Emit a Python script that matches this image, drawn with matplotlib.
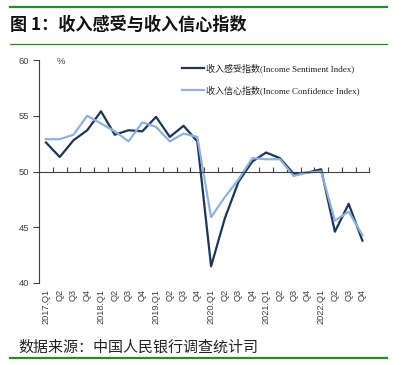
import matplotlib
matplotlib.use("Agg")
import matplotlib.pyplot as plt
from matplotlib.lines import Line2D

plt.rcParams['font.family'] = ['Liberation Sans', 'Noto Sans CJK SC', 'DejaVu Sans']

title = "图 1：收入感受与收入信心指数"
source = "数据来源：中国人民银行调查统计司"
ylabel_unit = "%"

quarters = ["2017.Q1", "Q2", "Q3", "Q4",
            "2018.Q1", "Q2", "Q3", "Q4",
            "2019.Q1", "Q2", "Q3", "Q4",
            "2020.Q1", "Q2", "Q3", "Q4",
            "2021.Q1", "Q2", "Q3", "Q4",
            "2022.Q1", "Q2", "Q3", "Q4"]

series_names = ["收入感受指数(Income Sentiment Index)",
                "收入信心指数(Income Confidence Index)"]

sentiment = [52.6, 51.3, 52.8, 53.7, 55.4, 53.3, 53.7, 53.6,
             54.9, 53.1, 54.1, 52.7, 41.5, 45.8, 49.1, 50.9,
             51.7, 51.2, 49.8, 49.9, 50.2, 44.6, 47.1, 43.8]
confidence = [52.9, 52.9, 53.3, 55.0, 54.3, 53.6, 52.7, 54.4,
              54.0, 52.7, 53.4, 53.1, 45.9, 47.7, 49.3, 51.2,
              51.1, 51.1, 49.6, 49.9, 50.0, 45.6, 46.4, 44.3]

yticks = [40, 45, 50, 55, 60]

dark = "#1d3557"
light = "#8fb1dc"
green = "#2a8a2a"
gray = "#404040"

W, H = 409, 365
fig = plt.figure(figsize=(W / 100, H / 100), dpi=100)

def fx(px):
    return px / W

def fy(py):
    return 1 - py / H

# title & decorative lines
fig.add_artist(Line2D([fx(10), fx(387)], [fy(7), fy(7)], color=green, lw=1.6))
fig.add_artist(Line2D([fx(10), fx(387)], [fy(44), fy(44)], color=green, lw=0.9))
fig.add_artist(Line2D([fx(10), fx(387)], [fy(358), fy(358)], color=green, lw=1.6))
fig.text(fx(10), fy(25), title, fontsize=12.3, fontweight='bold',
         family=['Noto Sans CJK SC'], va='center', ha='left', color='#111111')
fig.text(fx(18), fy(348), source, fontsize=10.8,
         family=['Noto Sans CJK SC'], va='center', ha='left', color='#222222')

ax = fig.add_axes([fx(39.1), fy(283), fx(369.3) - fx(39.1), fy(60) - fy(283)])

x = list(range(len(quarters)))
ax.plot(x, sentiment, color=dark, lw=1.6, label=series_names[0])
ax.plot(x, confidence, color=light, lw=1.6, label=series_names[1])

ax.set_xlim(-0.5, len(quarters) - 0.5)
ax.set_ylim(40, 60)

for s in ['top', 'right']:
    ax.spines[s].set_visible(False)
ax.spines['left'].set_color(gray)
ax.spines['left'].set_linewidth(0.8)
ax.spines['bottom'].set_position(('data', 50))
ax.spines['bottom'].set_color(gray)
ax.spines['bottom'].set_linewidth(0.8)

ax.set_yticks(yticks)
ax.set_yticklabels([str(v) for v in yticks])
ax.tick_params(axis='y', direction='out', length=4, width=0.8, color=gray,
               labelsize=6.8, labelcolor=gray, pad=3)

# boundary ticks on the 50 line
ax.set_xticks([i + 0.5 for i in x])
ax.set_xticklabels([])
ax.tick_params(axis='x', direction='in', length=3.5, width=0.8, color=gray)

# category labels at the bottom
sec = ax.secondary_xaxis('bottom')
sec.set_xticks(x)
sec.set_xticklabels(quarters, rotation=90, fontsize=6.6, color=gray)
sec.tick_params(length=0, pad=4)
sec.spines['bottom'].set_visible(False)

ax.text(0.8, 59.9, ylabel_unit, fontsize=6.8, color=gray, ha='left', va='center')

leg = ax.legend(loc='upper left', bbox_to_anchor=(fx(182), fy(63.5)),
                bbox_transform=fig.transFigure, frameon=False,
                borderpad=0, borderaxespad=0, handlelength=2.4,
                handletextpad=0.3, labelspacing=1.35,
                prop={'family': ['Liberation Serif', 'Noto Sans CJK SC'], 'size': 6.5})
for t in leg.get_texts():
    t.set_color('#222222')

fig.savefig("out.png", dpi=100)
